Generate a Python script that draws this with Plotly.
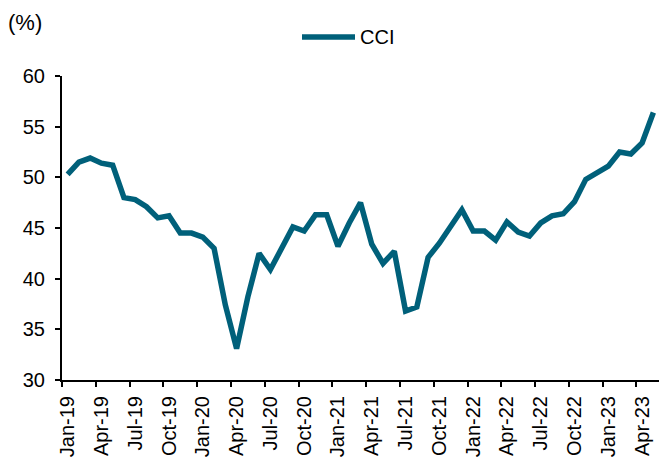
import pandas as pd
import plotly.graph_objects as go

months = pd.date_range("2019-01-01", periods=53, freq="MS").strftime("%b-%y").tolist()
cci = [50.3, 51.5, 51.9, 51.4, 51.2, 48.0, 47.8, 47.1, 46.0, 46.2,
       44.5, 44.5, 44.1, 43.0, 37.4, 33.1, 38.2, 42.5, 40.9, 43.0,
       45.1, 44.7, 46.3, 46.3, 43.2, 45.5, 47.5, 43.4, 41.5, 42.7,
       36.8, 37.2, 42.1, 43.5, 45.2, 46.8, 44.7, 44.7, 43.8, 45.6,
       44.6, 44.2, 45.5, 46.2, 46.4, 47.6, 49.8, 50.4, 51.1, 52.5,
       52.3, 53.4, 56.4]

series_name = "CCI"
unit_label = "(%)"
teal = "#00607A"
font_family = "Liberation Sans, Arial, sans-serif"

W, H = 659, 464
L, R, T, B = 62, 0, 76, 84
pw, ph = W - L - R, H - T - B

def px_x(p):
    return (p - L) / pw

def px_y(p):
    return (H - B - p) / ph

fig = go.Figure()
fig.add_trace(go.Scatter(
    x=months, y=cci, mode="lines", name=series_name,
    line=dict(color=teal, width=5.5), cliponaxis=False, showlegend=False,
))

fig.update_layout(
    width=W, height=H,
    margin=dict(l=L, r=R, t=T, b=B, autoexpand=False),
    paper_bgcolor="white", plot_bgcolor="white",
    font=dict(family=font_family, size=20, color="#000000"),
    showlegend=False,
    xaxis=dict(
        type="category", tickmode="linear", tick0=0, dtick=3,
        tickson="boundaries", ticks="outside", ticklen=5, tickcolor="black",
        tickwidth=2, tickangle=-90, showline=True, linecolor="black", linewidth=2,
        showgrid=False, zeroline=False, range=[-0.5, 52.5], automargin=False,
        tickfont=dict(size=20), ticklabelstandoff=6,
    ),
    yaxis=dict(
        range=[30, 60], dtick=5, ticks="outside", ticklen=5, tickcolor="black",
        tickwidth=2, showline=True, linecolor="black", linewidth=2, showgrid=False,
        zeroline=False, automargin=False, tickfont=dict(size=20),
        ticklabelstandoff=6,
    ),
    shapes=[dict(type="line", xref="paper", yref="paper",
                 x0=px_x(302), x1=px_x(355), y0=px_y(37), y1=px_y(37),
                 line=dict(color=teal, width=5.5))],
    annotations=[
        dict(text=unit_label, xref="paper", yref="paper", x=px_x(6), y=px_y(22),
             xanchor="left", yanchor="middle", showarrow=False, font=dict(size=22)),
        dict(text=series_name, xref="paper", yref="paper", x=px_x(358), y=px_y(37),
             xanchor="left", yanchor="middle", showarrow=False, font=dict(size=20)),
    ],
)

fig.write_html("out.html", config={"displayModeBar": False},
               post_script="document.body.style.margin='0';document.body.style.overflow='hidden';")
